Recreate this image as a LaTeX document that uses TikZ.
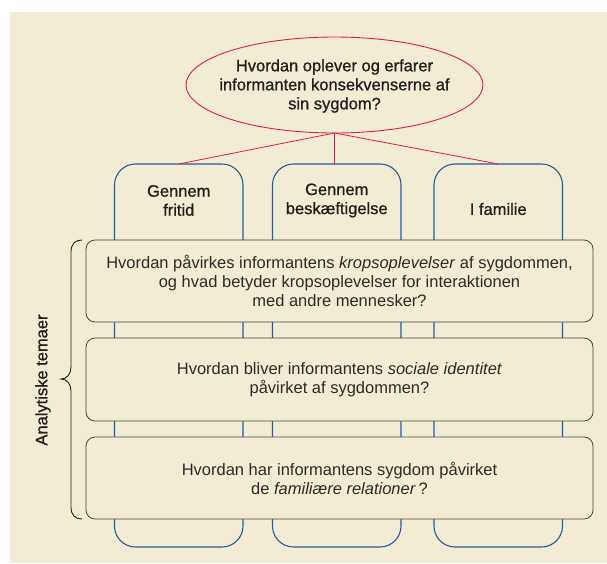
\documentclass[tikz,border=0pt]{standalone}
\usepackage{fontspec}
\setmainfont{Liberation Sans}
\newfontfamily\medfont{Liberation Sans}[FakeBold=0.9]
\usetikzlibrary{shapes.geometric}
\definecolor{bg}{RGB}{242,236,213}
\definecolor{redline}{RGB}{226,30,60}
\definecolor{blueline}{RGB}{40,90,150}
\definecolor{txt}{RGB}{35,31,32}
\definecolor{lighttxt}{RGB}{45,42,42}
\definecolor{boxline}{RGB}{70,70,66}
\begin{document}
\begin{tikzpicture}[x=1pt,y=-1pt,
  every node/.style={font=\fontsize{16.5}{19}\selectfont, text=txt, inner sep=0pt, outer sep=0pt},
  medtext/.style={font=\medfont\fontsize{16.5}{19}\selectfont, text=txt},
  colbox/.style={draw=blueline, line width=1.1pt, rounded corners=21pt, minimum width=128.5pt, minimum height=383pt},
  themebox/.style={draw=boxline, fill=bg, line width=0.8pt, rounded corners=9pt, minimum width=507pt, align=center, text=lighttxt},
  conn/.style={draw=redline, line width=0.8pt}]
\useasboundingbox (0,0) rectangle (607,563);
\fill[bg] (10,12) rectangle (607,563);
% columns
\node[colbox] (c1) at (178.75,355.5) {};
\node[colbox] (c2) at (336.75,355.5) {};
\node[colbox] (c3) at (498.25,355.5) {};
% question ellipse
\node[ellipse, draw=redline, line width=0.9pt, minimum width=297pt, minimum height=96pt] (q) at (334.5,85) {};
\node[medtext, align=center] (qt) at (334.5,86) {Hvordan oplever og erfarer\\informanten konsekvenserne af\\sin sygdom?};
\draw[conn] (q.south) -- (c1.north);
\draw[conn] (q.south) -- (q.south |- c2.north);
\draw[conn] (q.south) -- (c3.north);
% column heads
\node[medtext, align=center] (h1) at (178.75,200.5) {Gennem\\fritid};
\node[medtext, align=center] (h2) at (336.75,200.5) {Gennem\\beskæftigelse};
\node[medtext] (h3) at (498.25,209) {I familie};
% themes
\node[themebox, minimum height=82pt] (t1) at (339.5,281) {Hvordan påvirkes informantens \textit{kropsoplevelser} af sygdommen,\\og hvad betyder kropsoplevelser for interaktionen\\med andre mennesker?};
\node[themebox, minimum height=83pt] (t2) at (339.5,379.5) {Hvordan bliver informantens \textit{sociale identitet}\\påvirket af sygdommen?};
\node[themebox, minimum height=82pt] (t3) at (339.5,478) {Hvordan har informantens sygdom påvirket\\de \textit{familiære relationer}\,?};
% brace
\draw[txt, line width=0.9pt] (82,240) .. controls (75,240) and (71,244) .. (71,252) -- (71,367) .. controls (71,374) and (67,379) .. (61,379) .. controls (67,379) and (71,384) .. (71,391) -- (71,507) .. controls (71,515) and (75,519) .. (82,519);
\node[medtext, rotate=90] (lab) at (43,380) {Analytiske temaer};
\end{tikzpicture}
\end{document}
